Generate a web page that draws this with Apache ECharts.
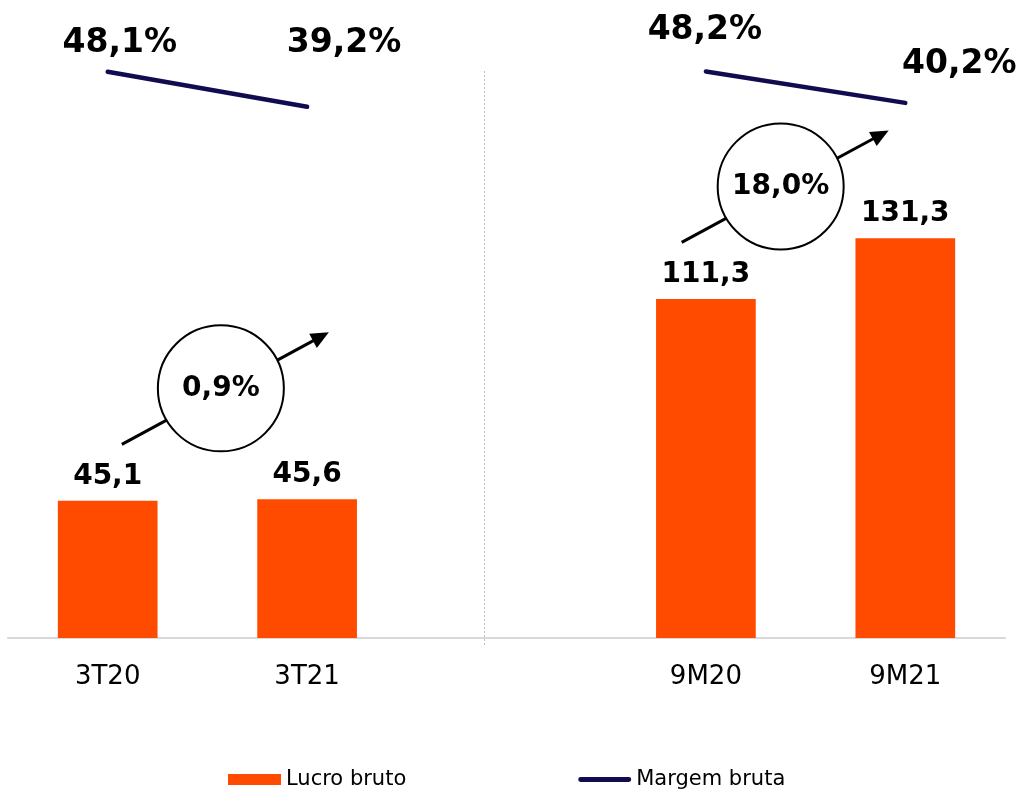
<!DOCTYPE html>
<html>
<head>
<meta charset="utf-8">
<script src="https://cdn.jsdelivr.net/npm/echarts@6/dist/echarts.min.js"></script>
<style>
html,body{margin:0;padding:0;background:#fff;}
#chart{width:1030px;height:793px;}
</style>
</head>
<body>
<div id="chart"></div>
<script>
// ---- data ----
const categories = ['3T20', '3T21', '', '9M20', '9M21'];
const lucroBruto = [45.1, 45.6, null, 111.3, 131.3];
const margemBruta = [48.1, 39.2, null, 48.2, 40.2];
const growthLabels = ['0,9%', '18,0%'];
const seriesNames = ['Lucro bruto', 'Margem bruta'];

// ---- styling (not data) ----
const BAR_COLOR = '#FF4B00';
const LINE_COLOR = '#100C4F';
const FONT = 'DejaVu Sans';
const marginLabelOffsets = [[12, -28], [37, -63], null, [-1, -41], [54, -38]];

const fmt = v => v.toFixed(1).replace('.', ',');

const chart = echarts.init(document.getElementById('chart'), null, {renderer: 'canvas'});

const option = {
  animation: false,
  backgroundColor: '#fff',
  grid: {left: 8, right: 25, top: 29, bottom: 155, containLabel: false},
  legend: {
    left: 223, top: 764,
    itemWidth: 53, itemHeight: 11, itemGap: 172,
    textStyle: {fontFamily: FONT, fontSize: 21, color: '#000'},
    data: [
      {name: seriesNames[0], icon: 'rect'},
      {name: seriesNames[1], icon: 'path://M4.5,0 H95.5 A4.5,4.5 0 0 1 95.5,9 H4.5 A4.5,4.5 0 0 1 4.5,0 Z'}
    ]
  },
  xAxis: {
    type: 'category',
    data: categories,
    axisLine: {lineStyle: {color: '#D9D9D9', width: 2}},
    axisTick: {show: false},
    axisLabel: {color: '#000', fontFamily: FONT, fontSize: 26, margin: 26, interval: 0}
  },
  yAxis: [
    {type: 'value', min: 0, max: 200, show: false, splitLine: {show: false}},
    {type: 'value', min: -96, max: 59, show: false, splitLine: {show: false}}
  ],
  series: [
    {
      name: seriesNames[0],
      type: 'bar',
      data: lucroBruto,
      barWidth: '50%',
      itemStyle: {color: BAR_COLOR},
      label: {
        show: true, position: 'top', distance: 10,
        fontFamily: FONT, fontWeight: 'bold', fontSize: 28, color: '#000',
        formatter: p => fmt(p.value)
      },
      z: 2
    },
    {
      name: seriesNames[1],
      type: 'line',
      yAxisIndex: 1,
      data: margemBruta.map((v, i) => v == null ? null : {
        value: v,
        label: {offset: marginLabelOffsets[i]}
      }),
      connectNulls: false,
      color: LINE_COLOR,
      symbol: 'circle',
      symbolSize: 1,
      lineStyle: {color: LINE_COLOR, width: 4.5, cap: 'round'},
      itemStyle: {color: LINE_COLOR},
      label: {
        show: true, position: 'inside',
        fontFamily: FONT, fontWeight: 'bold', fontSize: 33, color: '#000',
        formatter: p => fmt(p.value) + '%'
      },
      z: 3
    }
  ]
};

chart.setOption(option);

// ---- decorations: separator, growth circles and arrows ----
function px(catIdx, val) {
  return chart.convertToPixel({xAxisIndex: 0, yAxisIndex: 0}, [catIdx, val]);
}
function arrow(x1, y1, x2, y2) {
  const dx = x2 - x1, dy = y2 - y1, L = Math.hypot(dx, dy);
  const ux = dx / L, uy = dy / L, nx = -uy, ny = ux;
  const hl = 18, hw = 8;
  const bx = x2 - ux * hl, by = y2 - uy * hl;
  return [
    {type: 'line', shape: {x1: x1, y1: y1, x2: bx + ux * 2, y2: by + uy * 2},
      style: {stroke: '#000', lineWidth: 3}, z: 10},
    {type: 'polygon', shape: {points: [[x2, y2], [bx + nx * hw, by + ny * hw], [bx - nx * hw, by - ny * hw]]},
      style: {fill: '#000'}, z: 10}
  ];
}
const pA0 = px(0, 0), pA1 = px(1, 0), pB0 = px(3, 0), pB1 = px(4, 0);
const circles = [
  {x: pA0[0] + (pA1[0] - pA0[0]) * 0.5675, y: px(0, 82)[1], text: growthLabels[0]},
  {x: pB0[0] + (pB1[0] - pB0[0]) * 0.375, y: px(3, 148.3)[1], text: growthLabels[1]}
];
const graphics = [];
// separator
const sepX = px(2, 0)[0] - 22;
graphics.push({type: 'line', shape: {x1: sepX, y1: px(2, 0)[1] - 567, x2: sepX, y2: px(2, 0)[1] + 8},
  style: {stroke: '#BFBFBF', lineWidth: 1, lineDash: [2, 2]}, z: 1});
circles.forEach(c => {
  graphics.push(...arrow(c.x - 99, c.y + 56, c.x + 108, c.y - 56));
  graphics.push({type: 'circle', shape: {cx: c.x, cy: c.y, r: 63},
    style: {fill: '#fff', stroke: '#000', lineWidth: 2}, z: 11});
  graphics.push({type: 'text', x: c.x, y: c.y, z: 12,
    style: {text: c.text, fontFamily: FONT, fontWeight: 'bold', fontSize: 28, fill: '#000',
      align: 'center', verticalAlign: 'middle'}});
});
chart.setOption({graphic: graphics});
</script>
</body>
</html>
